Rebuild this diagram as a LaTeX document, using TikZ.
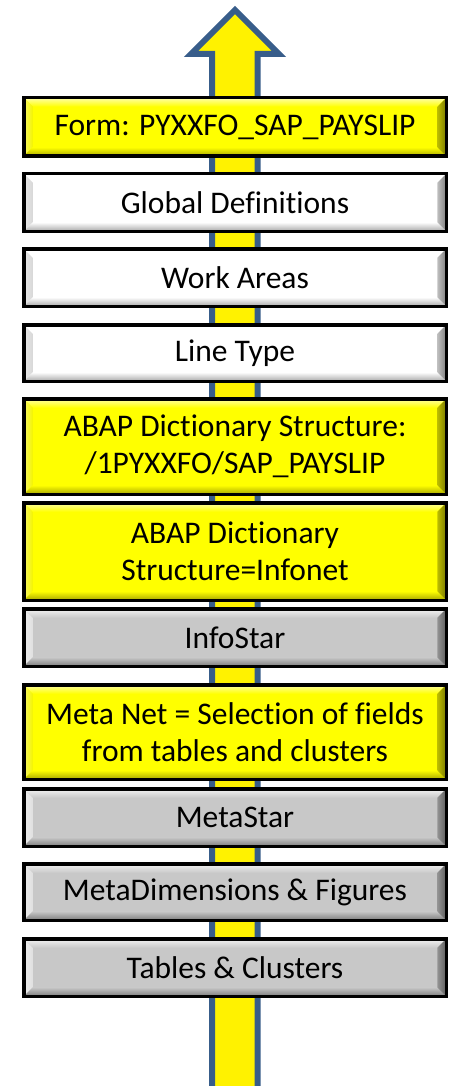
\documentclass[tikz,border=0pt]{standalone}
\usepackage{fontspec}
\setmainfont[Ligatures=NoCommon]{Carlito}
\usetikzlibrary{calc}
\definecolor{arrowblue}{HTML}{385D8A}
\definecolor{yface}{HTML}{FFFF00}
\definecolor{ylight}{HTML}{FFFFA8}
\definecolor{yleft}{HTML}{F4F400}
\definecolor{ydark}{HTML}{A8A800}
\definecolor{yright}{HTML}{7A7A00}
\definecolor{wface}{HTML}{FFFFFF}
\definecolor{wlight}{HTML}{FFFFFF}
\definecolor{wleft}{HTML}{D8D8D8}
\definecolor{wdark}{HTML}{A8A8A8}
\definecolor{wright}{HTML}{808080}
\definecolor{gface}{HTML}{C8C8C8}
\definecolor{glight}{HTML}{F4F4F4}
\definecolor{gleft}{HTML}{E0E0E0}
\definecolor{gdark}{HTML}{7C7C7C}
\definecolor{gright}{HTML}{5E5E5E}
\newcommand{\bevdraw}[5]{%
  \path (path picture bounding box.north west) coordinate (pnw)
        (path picture bounding box.south east) coordinate (pse);
  \path (pnw |- pse) coordinate (psw) (pse |- pnw) coordinate (pne);
  \path ($(pnw)+(9pt,-9pt)$) coordinate (inw)
        ($(pne)+(-9pt,-9pt)$) coordinate (ine)
        ($(pse)+(-9pt,9pt)$) coordinate (ise)
        ($(psw)+(9pt,9pt)$) coordinate (isw);
  \shade[top color=#2, bottom color=#1] (pnw) -- (pne) -- (ine) -- (inw) -- cycle;
  \shade[left color=#3!60!white, right color=#3] (pnw) -- (inw) -- (isw) -- (psw) -- cycle;
  \shade[top color=#1, bottom color=#4] (psw) -- (isw) -- (ise) -- (pse) -- cycle;
  \shade[left color=#1!50!#5, right color=#5] (pne) -- (pse) -- (ise) -- (ine) -- cycle;
}
\tikzset{
  bbox/.style={rectangle, draw=black, line width=3.5pt, minimum width=422.5pt,
    align=center, inner sep=0pt, text=black,
    font=\fontsize{31.5}{37}\selectfont},
  ybox/.style={bbox, fill=yface, path picture={\bevdraw{yface}{ylight}{yleft}{ydark}{yright}}},
  wbox/.style={bbox, fill=wface, path picture={\bevdraw{wface}{wlight}{wleft}{wdark}{wright}}},
  gbox/.style={bbox, fill=gface, path picture={\bevdraw{gface}{glight}{gleft}{gdark}{gright}}},
  bigarrow/.style={draw=arrowblue, fill=yellow, line width=6pt, line join=miter}
}
\begin{document}
\begin{tikzpicture}[x=1pt,y=1pt]
\useasboundingbox (0,0) rectangle (452,-1086);
\clip (0,0) rectangle (452,-1086);
\fill[white] (0,0) rectangle (452,-1086);
\draw[bigarrow] (212,-1100) -- (212,-54) -- (191,-54) -- (235,-10)
  -- (279,-54) -- (257.5,-54) -- (257.5,-1100) -- cycle;
\node[ybox, minimum height=58.5pt] (form) at (235,-127) {Form: PYXXFO\_SAP\_PAYSLIP};
\node[wbox, minimum height=57.5pt] (glob) at (235,-202.5) {Global Definitions};
\node[wbox, minimum height=57.5pt] (work) at (235,-277.5) {Work Areas};
\node[wbox, minimum height=56.5pt] (line) at (235,-353) {Line Type};
\node[ybox, minimum height=95.5pt] (abap1) at (235,-446.5) {ABAP Dictionary Structure:\\/1PYXXFO/SAP\_PAYSLIP};
\node[ybox, minimum height=97.5pt] (abap2) at (235,-551.5) {ABAP Dictionary\\Structure=Infonet};
\node[gbox, minimum height=57.5pt] (info) at (235,-637.5) {InfoStar};
\node[ybox, minimum height=94.5pt] (meta) at (235,-732) {Meta Net = Selection of fields\\from tables and clusters};
\node[gbox, minimum height=57.5pt] (mstar) at (235,-817.5) {MetaStar};
\node[gbox, minimum height=56.5pt] (mdim) at (235,-892) {MetaDimensions \& Figures};
\node[gbox, minimum height=57.5pt] (tabs) at (235,-967.5) {Tables \& Clusters};
\end{tikzpicture}
\end{document}
